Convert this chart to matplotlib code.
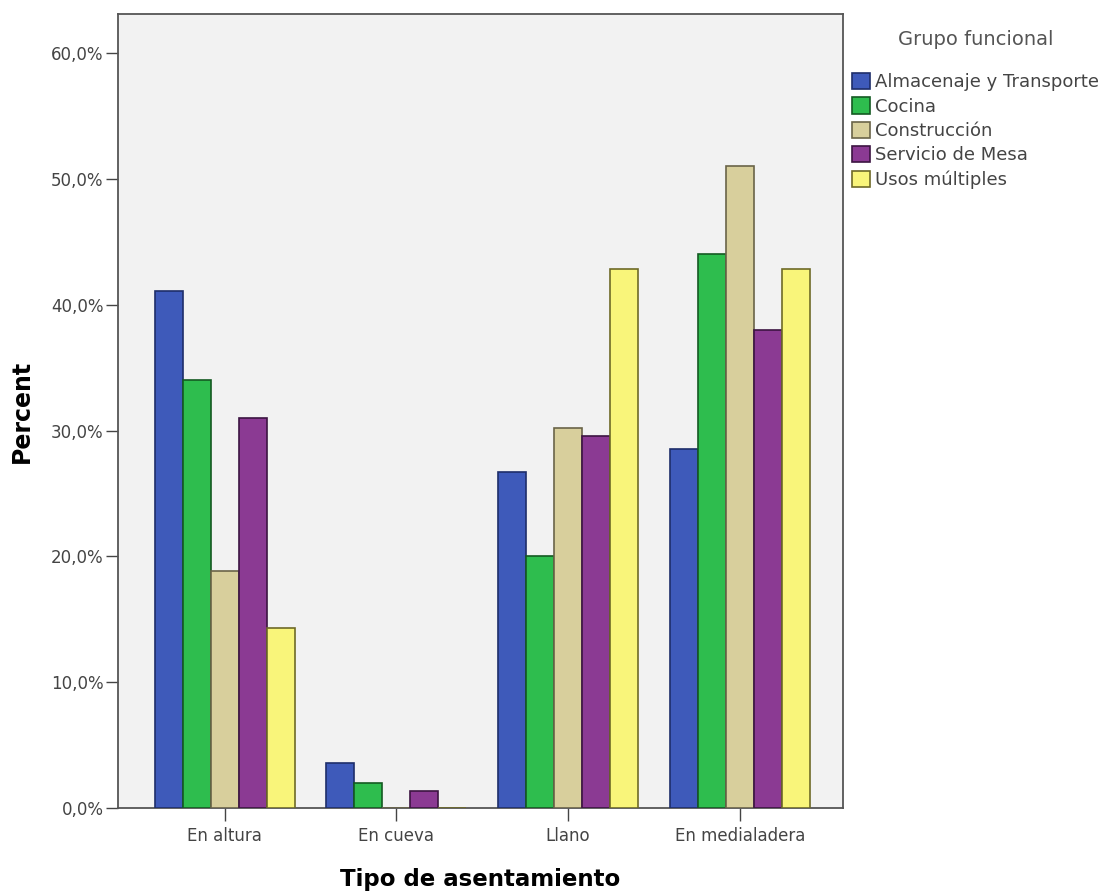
import numpy as np
import matplotlib.pyplot as plt
from matplotlib.ticker import FuncFormatter

# Data (percent of each functional group by settlement type)
settlements = ['En altura', 'En cueva', 'Llano', 'En medialadera']
groups = ['Almacenaje y Transporte', 'Cocina', 'Construcción', 'Servicio de Mesa', 'Usos múltiples']
almacenaje = [41.1, 3.6, 26.7, 28.5]
cocina = [34.0, 2.0, 20.0, 44.0]
construccion = [18.8, 0.0, 30.2, 51.0]
servicio = [31.0, 1.35, 29.6, 38.0]
usos = [14.3, 0.0, 42.8, 42.8]
series = [almacenaje, cocina, construccion, servicio, usos]

colors = ['#3e5aba', '#2ebd4e', '#d8cf9c', '#8b3a93', '#f9f57a']
edges = ['#1e2e6a', '#145a22', '#6a6448', '#3c1442', '#6e6a28']

plt.rcParams['font.family'] = ['DejaVu Sans']

fig = plt.figure(figsize=(11.07, 8.93), dpi=100)
ax = fig.add_axes([0.1066, 0.0952, 0.6549, 0.8891])
ax.set_facecolor('#f2f2f2')

x = np.arange(len(settlements))
width = 0.163
for i, vals in enumerate(series):
    offs = (i - 2) * width
    ax.bar(x + offs, vals, width, color=colors[i], edgecolor=edges[i],
           linewidth=1.2, label=groups[i], zorder=3)

ax.set_xlim(-0.62, 3.6)
ax.set_ylim(0, 63.1)
ax.set_yticks(np.arange(0, 61, 10))
ax.yaxis.set_major_formatter(FuncFormatter(lambda v, p: f'{v:.1f}%'.replace('.', ',')))
ax.set_xticks(x)
ax.set_xticklabels(settlements)
ax.tick_params(axis='both', labelsize=12, colors='#444444', length=9, width=1)
ax.tick_params(axis='x', pad=5)
ax.tick_params(axis='y', pad=1.5)
for lbl in ax.get_xticklabels() + ax.get_yticklabels():
    lbl.set_color('#444444')

for s in ax.spines.values():
    s.set_color('#555555')
    s.set_linewidth(1.3)

ax.set_ylabel('Percent', fontsize=17, fontweight='bold', labelpad=12)
ax.set_xlabel('Tipo de asentamiento', fontsize=16.5, fontweight='bold', labelpad=16)

leg = fig.legend(loc='upper left', bbox_to_anchor=(0.7697, 0.966), frameon=False,
                 title='Grupo funcional', fontsize=13, title_fontsize=14,
                 handlelength=1.0, handleheight=1.0, handletextpad=0.25,
                 labelspacing=0.34, borderaxespad=0, borderpad=0)
leg.get_title().set_color('#555555')
leg._legend_box.sep = 17
for t in leg.get_texts():
    t.set_color('#444444')

fig.savefig('out.png', dpi=100)
